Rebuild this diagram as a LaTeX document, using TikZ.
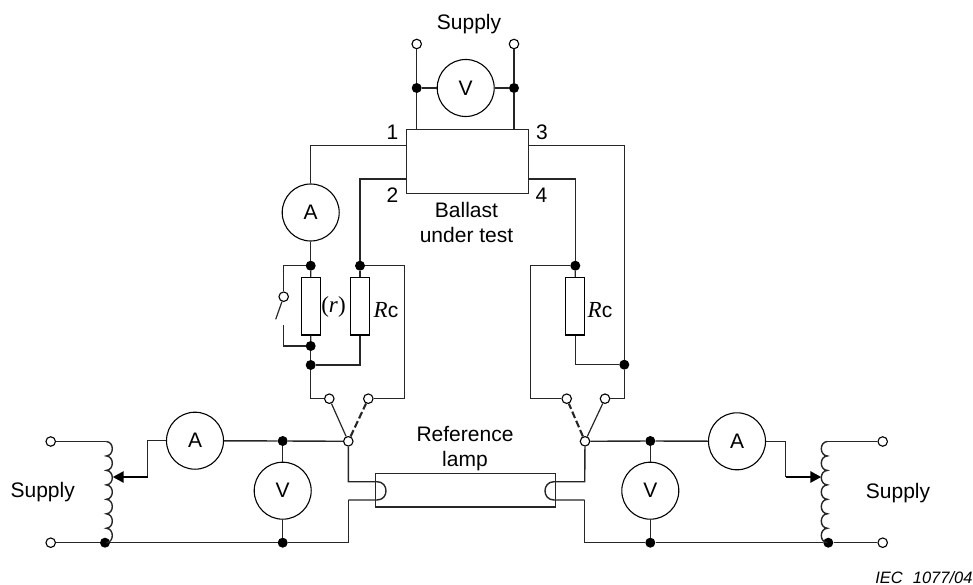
\documentclass[tikz,border=0pt]{standalone}
\usepackage{fontspec}
\setmainfont{Liberation Sans}
\newfontfamily\serifit[ItalicFont=Liberation Serif Italic]{Liberation Serif}
\usetikzlibrary{arrows.meta}
\tikzset{
  wire/.style={line width=1.4pt,black!85},
  thinwire/.style={line width=1.4pt,black!85},
  meter/.style={circle,draw,line width=1.1pt,minimum size=57pt,inner sep=0pt,font=\fontsize{21}{21}\selectfont},
  dot/.style={circle,fill=black,minimum size=10pt,inner sep=0pt},
  term/.style={circle,draw,fill=white,line width=1.1pt,minimum size=9.5pt,inner sep=0pt},
  resist/.style={rectangle,draw,line width=1.2pt,minimum width=19pt,minimum height=57.7pt,inner sep=0pt},
  lbl/.style={font=\fontsize{21}{25}\selectfont,align=center,inner sep=0pt},
  mathlbl/.style={font=\fontsize{23}{25}\selectfont,inner sep=0pt},
  blade/.style={line width=1.2pt,black!85},
  dashblade/.style={line width=2.1pt,black!85,dash pattern=on 7pt off 3pt},
  tap/.style={line width=2.6pt,black,-{Triangle[length=11pt,width=11pt]}}
}
\begin{document}
\begin{tikzpicture}[x=1pt,y=-1pt]
\useasboundingbox (0,0) rectangle (973,585);

% --- Top supply and ballast
\node[term] (tl) at (416.7,44) {};
\node[term] (tr) at (514,44) {};
\node[dot] (jtl) at (416.7,88) {};
\node[dot] (jtr) at (514,88) {};
\node[meter] (vt) at (465.7,88) {V};
\node[rectangle,draw,wire,minimum width=122pt,minimum height=64pt,inner sep=0pt] (box) at (467.7,161.7) {};
\coordinate (b1) at (406.7,145.7);
\coordinate (b2) at (406.7,179);
\coordinate (b3) at (528.7,145.7);
\coordinate (b4) at (528.7,179);

% --- Left branch
\node[meter] (al) at (310.7,212.5) {A};
\node[dot] (ja) at (310.7,265.7) {};
\node[resist] (rr) at (310.8,306.2) {};
\node[dot] (jb) at (310.7,346) {};
\node[dot] (jc) at (310.7,365) {};
\node[dot] (jd) at (360,265.7) {};
\node[resist] (rcl) at (360,306.2) {};
\node[term] (sw) at (283.7,296.7) {};
\coordinate (swtip) at (275.7,319.3);
\coordinate (swlow) at (283.7,325);
\node[term] (sl1) at (329.3,398.7) {};
\node[term] (sl2) at (368.3,398.7) {};
\node[term] (pl) at (348.3,441.3) {};

% --- Right branch
\node[dot] (je) at (575.3,265.7) {};
\node[resist] (rcr) at (575.2,306.2) {};
\node[dot] (jf) at (624.3,364.7) {};
\node[term] (sr1) at (566.7,398.7) {};
\node[term] (sr2) at (605,398.7) {};
\node[term] (pr) at (585,441.3) {};

% --- Bottom left
\node[term] (l1) at (50.7,441.5) {};
\node[term] (l2) at (50.7,542.7) {};
\node[dot] (jl) at (105,542.7) {};
\node[meter] (am1) at (195,440.7) {A};
\node[dot] (jv1) at (282.7,441) {};
\node[meter] (vl) at (282.7,490.7) {V};
\node[dot] (jv2) at (282.7,542.7) {};
\coordinate (coilL) at (106.3,441.5);
\coordinate (tapLs) at (147.7,477);
\coordinate (tapL) at (112.7,477);

% --- Bottom right
\node[term] (r1) at (882.7,441.5) {};
\node[term] (r2) at (882.7,542.7) {};
\node[dot] (jr) at (828.3,542.7) {};
\node[meter] (am2) at (737,441.3) {A};
\node[dot] (jw1) at (650.3,441) {};
\node[meter] (vr) at (650.3,490.7) {V};
\node[dot] (jw2) at (650.3,542.7) {};
\coordinate (coilR) at (827.3,441.5);
\coordinate (tapRs) at (785.7,477);
\coordinate (tapR) at (821.3,477);

% --- Lamp
\node[rectangle,draw,wire,minimum width=180.4pt,minimum height=33.7pt,inner sep=0pt] (lamp) at (465.5,490.2) {};
\coordinate (lu) at (348.3,481.7);
\coordinate (ld) at (348.3,500);
\coordinate (ru) at (584.7,481.7);
\coordinate (rd) at (584.7,500);
\coordinate (lbot) at (348.3,542.7);
\coordinate (rbot) at (584.7,542.7);

% --- Wires: top
\draw[wire] (tl) -- (jtl);
\draw[wire] (tr) -- (jtr);
\draw[wire] (jtl) -- (vt);
\draw[wire] (vt) -- (jtr);
\draw[wire] (jtl) -- (jtl |- box.north);
\draw[wire] (jtr) -- (jtr |- box.north);
\draw[thinwire] (b1) -| (al.north);
\draw[thinwire] (b2) -| (jd);
\draw[thinwire] (b3) -| (jf);
\draw[thinwire] (b4) -| (je);

% --- Wires: left branch
\draw[wire] (al) -- (ja);
\draw[wire] (ja) -- (rr);
\draw[wire] (rr) -- (jb);
\draw[wire] (jb) -- (jc);
\draw[thinwire] (ja) -| (sw);
\draw[thinwire] (jb) -| (swlow);
\draw[blade] (sw) -- (swtip);
\draw[thinwire] (jd) -- (rcl);
\draw[thinwire] (rcl.south) |- (jc);
\draw[thinwire] (jd) -| (404.3,398.7) -- (sl2);
\draw[thinwire] (jc) |- (sl1);
\draw[blade] (pl) -- (sl1);
\draw[dashblade] (pl) -- (sl2);

% --- Wires: right branch
\draw[thinwire] (je) -- (rcr);
\draw[thinwire] (rcr.south) |- (jf);
\draw[thinwire] (je) -| (530.7,398.7) -- (sr1);
\draw[thinwire] (jf) |- (sr2);
\draw[blade] (pr) -- (sr2);
\draw[dashblade] (pr) -- (sr1);

% --- Wires: bottom left
\draw[thinwire] (l1) -- (coilL);
\draw[thinwire] (coilL)
  .. controls +(8,0.5) and +(8,-0.5) .. ++(0,14.46)
  .. controls +(8,0.5) and +(8,-0.5) .. ++(0,14.46)
  .. controls +(8,0.5) and +(8,-0.5) .. ++(0,14.46)
  .. controls +(8,0.5) and +(8,-0.5) .. ++(0,14.46)
  .. controls +(8,0.5) and +(8,-0.5) .. ++(0,14.46)
  .. controls +(8,0.5) and +(8,-0.5) .. ++(0,14.46)
  .. controls +(8,0.5) and +(8,-0.5) .. ++(0,14.46);
\draw[thinwire] (l2) -- (jl);
\draw[thinwire] (jl) -- (jv2);
\draw[thinwire] (jv2) -- (lbot) |- (ld);
\draw[thinwire] (am1) -| (tapLs);
\draw[tap] (tapLs) -- (tapL);
\draw[thinwire] (am1) -- (jv1);
\draw[thinwire] (jv1) -- (pl);
\draw[thinwire] (jv1) -- (vl);
\draw[thinwire] (vl) -- (jv2);
\draw[thinwire] (pl) -- (lu) -- (377,481.7)
  .. controls (389,481.7) and (389,500) .. (377,500) -- (ld);

% --- Wires: bottom right
\draw[thinwire] (r1) -- (coilR);
\draw[thinwire] (coilR)
  .. controls +(-8,0.5) and +(-8,-0.5) .. ++(0,14.46)
  .. controls +(-8,0.5) and +(-8,-0.5) .. ++(0,14.46)
  .. controls +(-8,0.5) and +(-8,-0.5) .. ++(0,14.46)
  .. controls +(-8,0.5) and +(-8,-0.5) .. ++(0,14.46)
  .. controls +(-8,0.5) and +(-8,-0.5) .. ++(0,14.46)
  .. controls +(-8,0.5) and +(-8,-0.5) .. ++(0,14.46)
  .. controls +(-8,0.5) and +(-8,-0.5) .. ++(0,14.46);
\draw[thinwire] (r2) -- (jr);
\draw[thinwire] (jr) -- (jw2);
\draw[thinwire] (jw2) -- (rbot) |- (rd);
\draw[thinwire] (am2) -| (tapRs);
\draw[tap] (tapRs) -- (tapR);
\draw[thinwire] (am2) -- (jw1);
\draw[thinwire] (jw1) -- (pr);
\draw[thinwire] (jw1) -- (vr);
\draw[thinwire] (vr) -- (jw2);
\draw[thinwire] (pr) -- (ru) -- (554,481.7)
  .. controls (542,481.7) and (542,500) .. (554,500) -- (rd);

% --- Labels
\node[lbl] (tsup) at (469,24) {Supply};
\node[lbl] (n1) at (392.5,132.5) {1};
\node[lbl] (n3) at (542,132.5) {3};
\node[lbl] (n2) at (392.5,195) {2};
\node[lbl] (n4) at (541.5,195) {4};
\node[lbl] (ball) at (466.5,222) {Ballast\\under test};
\node[lbl] (ref) at (465,449) {Reference\\lamp};
\node[lbl] (sl) at (42.7,492.5) {Supply};
\node[lbl] (sr) at (898,493.5) {Supply};
\node[mathlbl] (rl) at (333.5,307) {\serifit (\textit{r})};
\node[mathlbl] (rc1) at (386,310) {\serifit\textit{R}\fontsize{21}{21}\selectfont\rmfamily c};
\node[mathlbl] (rc2) at (600,310) {\serifit\textit{R}\fontsize{21}{21}\selectfont\rmfamily c};
\node[anchor=east,inner sep=0pt,font=\fontsize{16.5}{18}\selectfont\itshape] (iec) at (972.7,577.5) {IEC\hspace{10pt}1077/04};
\end{tikzpicture}
\end{document}
